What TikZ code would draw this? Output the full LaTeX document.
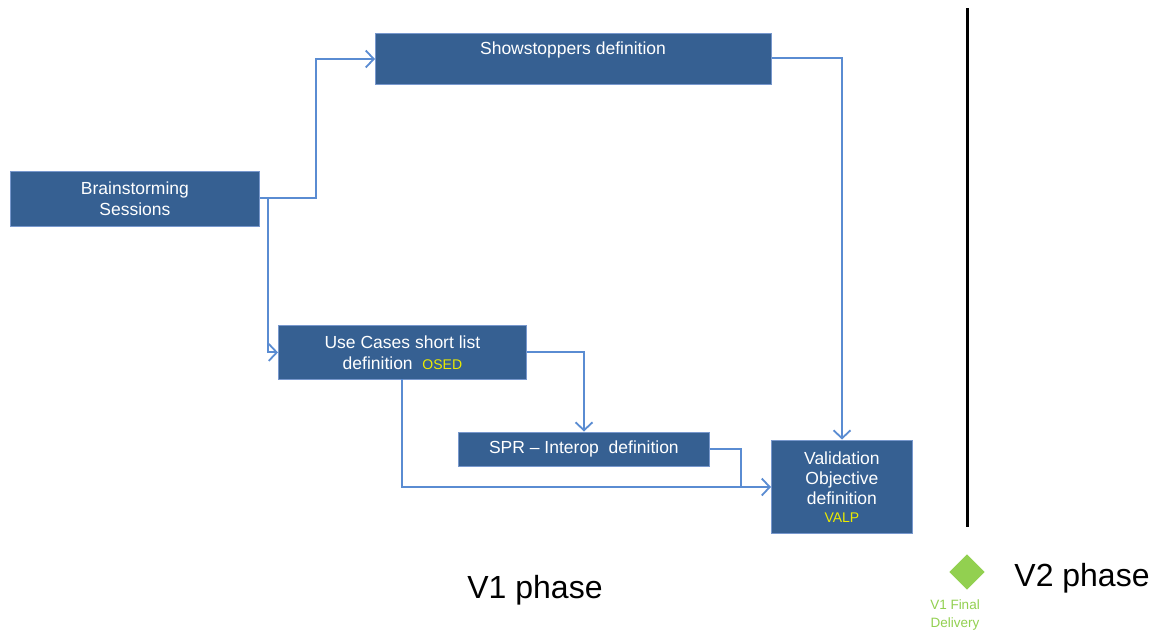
\documentclass[tikz,border=0pt]{standalone}
\usepackage{fontspec}
\setmainfont{Liberation Sans}
\usetikzlibrary{arrows.meta}
\definecolor{boxblue}{RGB}{54,96,146}
\definecolor{boxedge}{RGB}{120,152,205}
\definecolor{linkblue}{RGB}{90,140,210}
\definecolor{tagyellow}{RGB}{235,235,0}
\definecolor{mgreen}{RGB}{146,208,80}
\begin{document}
\begin{tikzpicture}[x=1pt,y=-1pt,
  box/.style={draw=boxedge, line width=0.8pt, fill=boxblue, text=white, align=center,
    inner sep=0pt, anchor=north west, font=\fontsize{17.5}{21}\selectfont},
  link/.style={draw=linkblue, line width=2pt, -{Straight Barb[length=8pt,width=17pt,line width=1.8pt]}},
  plain/.style={draw=linkblue, line width=2pt}]
\useasboundingbox (0,0) rectangle (1155,635);
\fill[white] (0,0) rectangle (1155,635);

\node[box, minimum width=396pt, minimum height=51pt] (ss) at (375,33) {};
\node[text=white, font=\fontsize{17.5}{21}\selectfont] (sst) at (573,50) {Showstoppers definition};
\node[box, minimum width=249pt, minimum height=55pt] (bs) at (10,171) {Brainstorming\\Sessions};
\node[box, minimum width=248pt, minimum height=54pt] (uc) at (278,325)
  {Use Cases short list\\definition\ \ {\color{tagyellow}\fontsize{14}{15}\selectfont OSED}};
\node[box, minimum width=251pt, minimum height=34pt] (spr) at (458,432) {SPR -- Interop\ \ definition};
\node[box, minimum width=141pt, minimum height=93pt] (vo) at (771,440)
  {Validation\\[-1pt]Objective\\[-1pt]definition\\[-3pt]{\color{tagyellow}\fontsize{14}{15}\selectfont VALP}};

\coordinate (bsr) at (bs.east |- 0,198);
\coordinate (bsd) at (268,198);
\draw[link] (bsr) -- (316,198) |- (ss.west |- 0,59);
\draw[link] (bsd) |- (uc.west);
\draw[link] (ss.east |- 0,58) -| (842,439.5);
\draw[link] (uc.east |- 0,352) -| (584,431.5);
\coordinate (ucb) at (402,379);
\draw[link] (ucb) |- (vo.west |- 0,487);
\draw[plain] (spr.east |- 0,449) -| (741,487);

\draw[line width=3pt, black] (967,8) coordinate (vt) -- (967,527) coordinate (vb);
\node[fill=mgreen, minimum width=25pt, minimum height=25pt, rotate=45, inner sep=0pt] (dm) at (967,572) {};
\node[text=mgreen, align=center, font=\fontsize{13.5}{18}\selectfont] (dl) at (955,615) {V1 Final\\Delivery};
\node[font=\fontsize{32}{36}\selectfont] (v1) at (535,590) {V1 phase};
\node[font=\fontsize{32}{36}\selectfont] (v2) at (1082,578) {V2 phase};
\end{tikzpicture}
\end{document}
